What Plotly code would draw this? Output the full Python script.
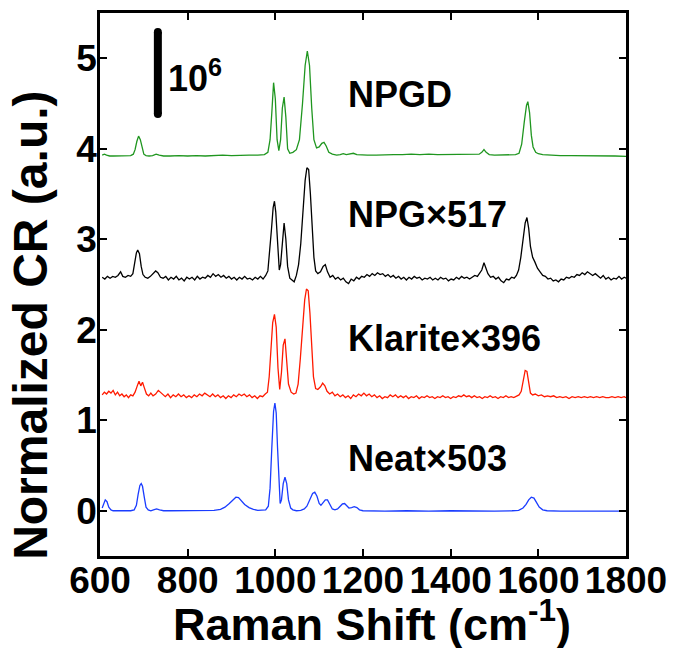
import plotly.graph_objects as go

# ---------------- data ----------------
npgd_x = [605, 610, 615, 622, 630, 640, 650, 660, 670, 676, 680, 684, 688, 692, 696, 700, 705, 712, 720, 728,
          735, 745, 760, 780, 800, 820, 840, 860, 880, 900, 920, 940, 960, 975, 983, 988, 992, 996, 1000, 1004,
          1008, 1012, 1016, 1020, 1024, 1028, 1033, 1040, 1048, 1055, 1062, 1068, 1073, 1078, 1083, 1088, 1094,
          1100, 1106, 1111, 1116, 1122, 1130, 1140, 1148, 1155, 1162, 1170, 1178, 1186, 1195, 1210, 1230, 1250,
          1270, 1290, 1310, 1330, 1350, 1370, 1390, 1410, 1430, 1450, 1465, 1471, 1476, 1481, 1488, 1500, 1520,
          1535, 1548, 1556, 1562, 1568, 1573, 1576, 1580, 1584, 1588, 1594, 1600, 1610, 1625, 1650, 1675, 1700,
          1725, 1750, 1775, 1800]
npgd_y = [3.93, 3.94, 3.93, 3.92, 3.92, 3.92, 3.925, 3.92, 3.925, 3.94, 3.99, 4.08, 4.14, 4.10, 4.00, 3.94,
          3.925, 3.92, 3.925, 3.94, 3.93, 3.92, 3.92, 3.925, 3.92, 3.925, 3.92, 3.925, 3.93, 3.925, 3.93, 3.93,
          3.93, 3.935, 3.96, 4.10, 4.40, 4.73, 4.55, 4.10, 3.98, 4.10, 4.45, 4.57, 4.35, 4.00, 3.95, 3.96, 3.99,
          4.10, 4.50, 4.92, 5.08, 4.92, 4.45, 4.10, 4.01, 4.02, 4.06, 4.07, 4.03, 3.96, 3.94, 3.93, 3.935, 3.945,
          3.935, 3.94, 3.95, 3.935, 3.93, 3.93, 3.93, 3.935, 3.935, 3.935, 3.94, 3.935, 3.94, 3.935, 3.935, 3.935,
          3.935, 3.935, 3.94, 3.96, 3.99, 3.96, 3.935, 3.93, 3.93, 3.93, 3.935, 3.95, 4.05, 4.30, 4.48, 4.52,
          4.40, 4.15, 4.02, 3.96, 3.945, 3.935, 3.93, 3.925, 3.925, 3.925, 3.92, 3.92, 3.92, 3.915]

npg_x = [605, 611, 617, 623, 629, 635, 641, 647, 652, 658, 664, 670, 675, 679, 683, 686, 690, 694, 698, 703,
         709, 715, 721, 727, 732, 738, 744, 750, 756, 762, 768, 774, 780, 786, 792, 798, 804, 810, 816, 822,
         828, 834, 840, 846, 852, 858, 864, 870, 876, 882, 888, 894, 900, 906, 912, 918, 924, 930, 936, 942,
         948, 954, 960, 966, 972, 978, 983, 987, 991, 995, 998, 1001, 1005, 1009, 1012, 1016, 1020, 1024, 1028,
         1033, 1038, 1043, 1048, 1053, 1058, 1063, 1068, 1072, 1076, 1080, 1084, 1088, 1092, 1097, 1103, 1109,
         1114, 1119, 1125, 1131, 1137, 1143, 1149, 1155, 1161, 1167, 1173, 1179, 1185, 1191, 1197, 1203, 1209,
         1215, 1221, 1227, 1233, 1239, 1245, 1251, 1257, 1263, 1269, 1275, 1281, 1287, 1293, 1299, 1305, 1311,
         1317, 1323, 1329, 1335, 1341, 1347, 1353, 1359, 1365, 1371, 1377, 1383, 1389, 1395, 1401, 1407, 1413,
         1419, 1425, 1431, 1437, 1443, 1449, 1455, 1461, 1466, 1471, 1476, 1480, 1485, 1491, 1497, 1503, 1509,
         1515, 1521, 1527, 1533, 1539, 1545, 1550, 1555, 1560, 1565, 1570, 1574, 1578, 1582, 1587, 1592, 1598,
         1604, 1610, 1616, 1622, 1628, 1634, 1640, 1646, 1652, 1658, 1664, 1670, 1676, 1682, 1688, 1694, 1700,
         1706, 1712, 1718, 1724, 1730, 1736, 1742, 1748, 1754, 1760, 1766, 1772, 1778, 1784, 1790, 1796, 1800]
npg_y = [2.58, 2.56, 2.59, 2.57, 2.59, 2.58, 2.60, 2.64, 2.59, 2.58, 2.60, 2.59, 2.62, 2.72, 2.85, 2.88, 2.84,
         2.70, 2.61, 2.58, 2.57, 2.59, 2.62, 2.65, 2.63, 2.58, 2.57, 2.59, 2.55, 2.58, 2.56, 2.59, 2.55, 2.57,
         2.54, 2.58, 2.56, 2.58, 2.55, 2.59, 2.56, 2.58, 2.57, 2.60, 2.58, 2.62, 2.59, 2.61, 2.58, 2.60, 2.57,
         2.59, 2.56, 2.58, 2.55, 2.58, 2.56, 2.59, 2.56, 2.57, 2.55, 2.58, 2.56, 2.59, 2.56, 2.60, 2.65, 2.85,
         3.10, 3.35, 3.42, 3.30, 2.90, 2.66, 2.72, 3.00, 3.18, 3.00, 2.70, 2.57, 2.55, 2.53, 2.60, 2.72, 2.95,
         3.30, 3.65, 3.79, 3.77, 3.50, 3.10, 2.80, 2.65, 2.62, 2.64, 2.70, 2.72, 2.64, 2.58, 2.60, 2.56, 2.58,
         2.55, 2.57, 2.53, 2.51, 2.56, 2.54, 2.58, 2.56, 2.59, 2.58, 2.61, 2.59, 2.62, 2.60, 2.63, 2.61, 2.62,
         2.59, 2.61, 2.58, 2.60, 2.57, 2.59, 2.56, 2.58, 2.55, 2.58, 2.56, 2.59, 2.57, 2.58, 2.55, 2.57, 2.56,
         2.58, 2.55, 2.57, 2.55, 2.58, 2.56, 2.57, 2.54, 2.56, 2.55, 2.58, 2.56, 2.59, 2.57, 2.58, 2.56, 2.58,
         2.60, 2.59, 2.62, 2.66, 2.74, 2.68, 2.62, 2.58, 2.59, 2.56, 2.58, 2.54, 2.52, 2.56, 2.55, 2.58, 2.57,
         2.60, 2.66, 2.80, 3.00, 3.18, 3.24, 3.12, 2.92, 2.80, 2.75, 2.68, 2.64, 2.60, 2.59, 2.56, 2.57, 2.54,
         2.55, 2.53, 2.56, 2.55, 2.58, 2.57, 2.59, 2.58, 2.61, 2.60, 2.63, 2.61, 2.64, 2.62, 2.60, 2.62, 2.59,
         2.57, 2.60, 2.56, 2.58, 2.55, 2.57, 2.56, 2.59, 2.56, 2.58, 2.57]

klarite_x = [605, 610, 615, 620, 625, 630, 635, 640, 645, 650, 655, 660, 665, 670, 675, 680, 685, 689, 693, 697,
             701, 706, 711, 716, 721, 727, 733, 738, 743, 749, 755, 761, 767, 773, 779, 785, 791, 797, 803, 809,
             815, 821, 827, 833, 839, 845, 851, 857, 863, 869, 875, 881, 887, 893, 899, 905, 911, 917, 923, 929,
             935, 941, 947, 953, 959, 965, 971, 977, 982, 986, 990, 994, 998, 1002, 1006, 1010, 1014, 1018, 1022,
             1026, 1030, 1036, 1042, 1047, 1052, 1057, 1062, 1067, 1071, 1075, 1079, 1083, 1087, 1092, 1097, 1103,
             1108, 1113, 1118, 1124, 1130, 1136, 1142, 1148, 1154, 1160, 1166, 1172, 1178, 1184, 1190, 1196, 1202,
             1208, 1214, 1220, 1226, 1232, 1238, 1244, 1250, 1256, 1262, 1268, 1274, 1280, 1286, 1292, 1298, 1304,
             1310, 1316, 1322, 1328, 1334, 1340, 1346, 1352, 1358, 1364, 1370, 1376, 1382, 1388, 1394, 1400, 1406,
             1412, 1418, 1424, 1430, 1436, 1442, 1448, 1454, 1460, 1466, 1472, 1478, 1484, 1490, 1496, 1502, 1508,
             1514, 1520, 1526, 1532, 1538, 1544, 1550, 1556, 1561, 1566, 1570, 1574, 1578, 1582, 1587, 1593, 1600,
             1607, 1614, 1621, 1628, 1635, 1642, 1649, 1656, 1663, 1670, 1677, 1684, 1691, 1698, 1705, 1712, 1719,
             1726, 1733, 1740, 1747, 1754, 1761, 1768, 1775, 1782, 1789, 1796, 1800]
klarite_y = [1.28, 1.31, 1.29, 1.32, 1.30, 1.33, 1.28, 1.31, 1.27, 1.29, 1.26, 1.28, 1.25, 1.28, 1.27, 1.31,
             1.38, 1.43, 1.38, 1.42, 1.36, 1.29, 1.27, 1.30, 1.27, 1.29, 1.33, 1.31, 1.28, 1.26, 1.29, 1.25,
             1.28, 1.26, 1.29, 1.26, 1.28, 1.25, 1.27, 1.25, 1.28, 1.26, 1.29, 1.27, 1.30, 1.28, 1.26, 1.29,
             1.26, 1.28, 1.25, 1.27, 1.24, 1.27, 1.25, 1.28, 1.26, 1.29, 1.27, 1.29, 1.26, 1.28, 1.25, 1.27,
             1.24, 1.27, 1.26, 1.29, 1.31, 1.48, 1.78, 2.08, 2.17, 2.03, 1.58, 1.34, 1.53, 1.83, 1.90, 1.68,
             1.40, 1.31, 1.29, 1.30, 1.40, 1.68, 2.03, 2.33, 2.45, 2.43, 2.18, 1.78, 1.48, 1.35, 1.34, 1.37,
             1.41, 1.38, 1.32, 1.29, 1.31, 1.27, 1.29, 1.26, 1.28, 1.25, 1.27, 1.24, 1.28, 1.26, 1.29, 1.27,
             1.30, 1.27, 1.29, 1.26, 1.28, 1.25, 1.27, 1.24, 1.26, 1.25, 1.28, 1.26, 1.28, 1.25, 1.27, 1.25,
             1.27, 1.24, 1.26, 1.25, 1.27, 1.24, 1.26, 1.25, 1.27, 1.25, 1.26, 1.24, 1.26, 1.25, 1.27, 1.25,
             1.26, 1.24, 1.26, 1.25, 1.27, 1.26, 1.28, 1.26, 1.27, 1.25, 1.27, 1.25, 1.26, 1.24, 1.26, 1.25,
             1.27, 1.25, 1.26, 1.24, 1.26, 1.25, 1.27, 1.25, 1.26, 1.25, 1.27, 1.28, 1.32, 1.46, 1.55, 1.54,
             1.40, 1.30, 1.28, 1.29, 1.27, 1.28, 1.26, 1.27, 1.26, 1.27, 1.25, 1.26, 1.25, 1.26, 1.24, 1.26,
             1.25, 1.26, 1.25, 1.26, 1.25, 1.26, 1.25, 1.26, 1.25, 1.26, 1.25, 1.25, 1.26, 1.25, 1.26, 1.25,
             1.26, 1.25]

neat_x = [605, 608, 612, 616, 620, 625, 630, 640, 650, 660, 670, 678, 683, 687, 691, 694, 697, 701, 705, 710,
          716, 722, 729, 736, 745, 760, 780, 800, 820, 840, 860, 875, 885, 895, 903, 910, 916, 922, 930, 940,
          950, 960, 970, 978, 984, 988, 992, 996, 999, 1002, 1005, 1008, 1011, 1014, 1018, 1022, 1026, 1030,
          1035, 1040, 1048, 1058, 1066, 1072, 1079, 1085, 1090, 1095, 1100, 1104, 1109, 1114, 1119, 1124, 1130,
          1136, 1142, 1148, 1153, 1158, 1163, 1168, 1174, 1180, 1186, 1192, 1200, 1220, 1250, 1300, 1350, 1400,
          1450, 1500, 1540, 1555, 1565, 1572, 1578, 1584, 1590, 1596, 1602, 1610, 1620, 1650, 1700, 1750, 1800]
neat_y = [0.03, 0.08, 0.12, 0.10, 0.04, 0.01, 0.0, 0.0, 0.0, 0.0, 0.0, 0.01, 0.06, 0.18, 0.28, 0.30, 0.27, 0.15,
          0.04, 0.01, 0.0, 0.01, 0.02, 0.01, 0.0, 0.0, 0.0, 0.0, 0.0, 0.0, 0.005, 0.015, 0.04, 0.08, 0.12, 0.15,
          0.145, 0.11, 0.07, 0.035, 0.015, 0.005, 0.005, 0.01, 0.05, 0.25, 0.70, 1.10, 1.19, 1.08, 0.70, 0.30,
          0.08, 0.12, 0.30, 0.37, 0.30, 0.12, 0.03, 0.01, 0.0, 0.005, 0.02, 0.05, 0.12, 0.19, 0.205, 0.16, 0.08,
          0.06, 0.09, 0.12, 0.12, 0.07, 0.02, 0.01, 0.02, 0.05, 0.075, 0.08, 0.055, 0.03, 0.035, 0.045, 0.035,
          0.01, 0.0, -0.005, -0.005, 0.0, -0.005, 0.0, -0.005, -0.005, 0.0, 0.005, 0.03, 0.07, 0.12, 0.15, 0.14,
          0.09, 0.04, 0.01, 0.0, -0.005, -0.005, -0.005, -0.005]

series_names = ["NPGD", "NPG×517", "Klarite×396", "Neat×503"]
series_colors = ["#1f961f", "#000000", "#ff1a00", "#1a3cff"]
label_y = [4.6, 3.27, 1.9, 0.58]

x_ticks = [600, 800, 1000, 1200, 1400, 1600, 1800]
y_ticks = [0, 1, 2, 3, 4, 5]
x_title = "Raman Shift (cm<sup>-1</sup>)"
y_title = "Normalized CR (a.u.)"

FONT = "Liberation Sans, Arial, Helvetica, sans-serif"

fig = go.Figure()
for xs, ys, name, col in zip([npgd_x, npg_x, klarite_x, neat_x], [npgd_y, npg_y, klarite_y, neat_y],
                             series_names, series_colors):
    fig.add_trace(go.Scatter(x=xs, y=ys, mode="lines", name=name,
                             line=dict(color=col, width=1.3), showlegend=False))

for name, ly in zip(series_names, label_y):
    fig.add_annotation(x=1161, y=ly, xref="x", yref="y", text=name, showarrow=False,
                       xanchor="left", yanchor="middle",
                       font=dict(family=FONT, size=36, color="black", weight="bold"))

# scale bar (thick line with rounded ends)
bar_x, bar_lo, bar_hi = 732, 4.34, 5.334
fig.add_shape(type="line", x0=bar_x, x1=bar_x, y0=bar_lo + 0.044, y1=bar_hi - 0.044, xref="x", yref="y",
              line=dict(color="black", width=8))
for yc in (bar_lo + 0.044, bar_hi - 0.044):
    fig.add_shape(type="circle", xref="x", yref="y", x0=bar_x - 9.1, x1=bar_x + 9.1,
                  y0=yc - 0.044, y1=yc + 0.044, line=dict(width=0), fillcolor="black")
fig.add_annotation(x=750, y=4.8, xref="x", yref="y", text="10<sup>6</sup>", showarrow=False,
                   xanchor="left", yanchor="middle",
                   font=dict(family=FONT, size=36, color="black", weight="bold"))

# axis titles placed as rotated / centred text
fig.add_annotation(x=-0.131, y=0.424, xref="paper", yref="paper", text=y_title, textangle=-90,
                   showarrow=False, xanchor="center", yanchor="middle",
                   font=dict(family=FONT, size=48, color="black", weight="bold"))
fig.add_annotation(x=0.517, y=-0.12, xref="paper", yref="paper", text=x_title,
                   showarrow=False, xanchor="center", yanchor="middle",
                   font=dict(family=FONT, size=45, color="black", weight="bold"))

axis_common = dict(showline=True, linecolor="black", linewidth=2.5, mirror="ticks", ticks="inside",
                   ticklen=7, tickwidth=2, tickcolor="black", showgrid=False, zeroline=False,
                   tickfont=dict(family=FONT, size=37, color="black", weight="bold"))

# page body has an 8px margin, so the figure is sized/margined to land the plot box at 100..626 x 13..556
fig.update_layout(
    width=667, height=640,
    margin=dict(l=92, r=49, t=5, b=92),
    paper_bgcolor="white", plot_bgcolor="white",
    xaxis=dict(range=[600, 1800], tickvals=x_ticks, ticktext=[str(v) for v in x_ticks],
               ticklabelstandoff=-10, automargin=False, **axis_common),
    yaxis=dict(range=[-0.5, 5.5], tickvals=y_ticks, ticktext=[str(v) for v in y_ticks],
               ticklabelstandoff=-7, automargin=False, **axis_common),
)

fig.write_html("out.html")
